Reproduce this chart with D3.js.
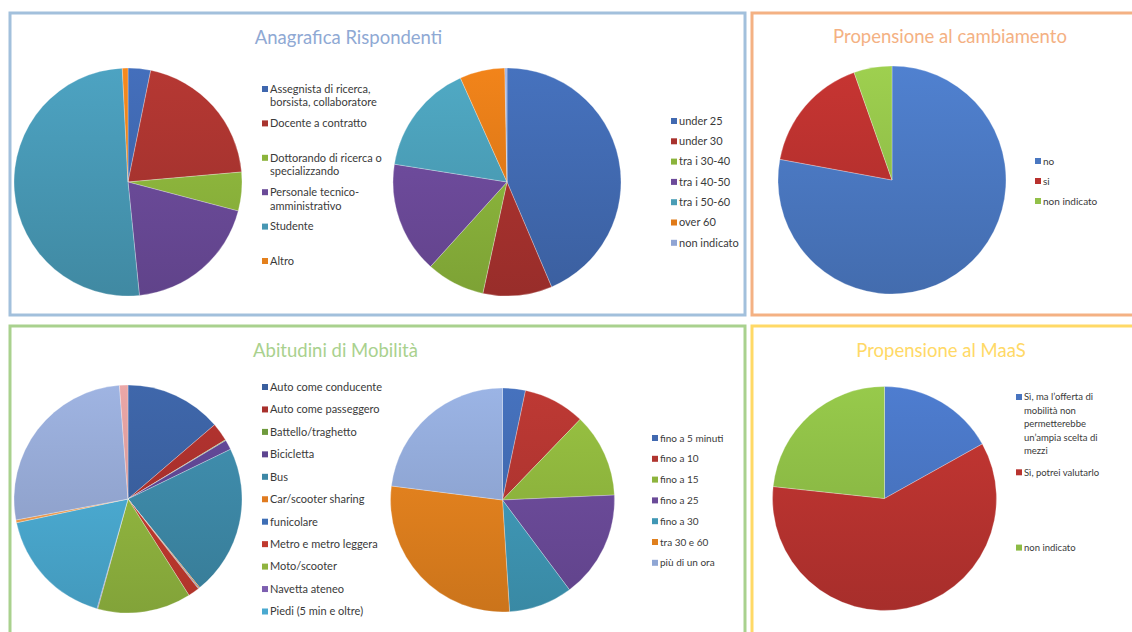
<!DOCTYPE html>
<html><head><meta charset="utf-8">
<script src="https://cdn.jsdelivr.net/npm/d3@7"></script>
<style>
html,body{margin:0;padding:0;background:#fff;}
svg{display:block;}
text{font-family:Lato,"Open Sans",sans-serif;}
</style></head>
<body>
<svg id="chart" width="1132" height="632"></svg>
<script>
// ---------- DATA ----------
const roleLabels = [["Assegnista di ricerca,","borsista, collaboratore"],["Docente a contratto"],["Dottorando di ricerca o","specializzando"],["Personale tecnico-","amministrativo"],["Studente"],["Altro"]];
const roleValues = [3.2, 20.4, 5.5, 19.3, 50.8, 0.8];
const roleColors = ["#3f67ae","#a8342f","#8cb43c","#6a4a98","#4797b3","#e4801c"];

const ageLabels = ["under 25","under 30","tra i 30-40","tra i 40-50","tra i 50-60","over 60","non indicato"];
const ageValues = [43.6, 9.8, 8.3, 15.8, 15.8, 6.4, 0.3];
const ageColors = ["#4169b0","#a8322e","#8ab33b","#6c4a9a","#4a9db6","#e07a18","#8fa4d4"];

const changeLabels = ["no","si","non indicato"];
const changeValues = [77.9, 16.7, 5.4];
const changeColors = ["#4a77c0","#b8312e","#92c049"];

// the legend of this pie is cut off by the picture edge after "Piedi (5 min e oltre)"
const modeLabels = ["Auto come conducente","Auto come passeggero","Battello/traghetto","Bicicletta","Bus","Car/scooter sharing","funicolare","Metro e metro leggera","Moto/scooter","Navetta ateneo","Piedi (5 min e oltre)"];
const modeValues = [13.75, 2.6, 0.1, 1.4, 21.4, 0.15, 0.1, 1.6, 13.3, 0.1, 17.3, 0.4, 26.8, 1.2];
const modeColors = ["#3a5f9e","#a8302c","#6e9a3c","#5e4591","#3d88a6","#e07b20","#3e6eb5","#c0392e","#90b43f","#7d5fb0","#4aa9d0","#f29a4a","#93a6d1","#d99a9a"];

const timeLabels = ["fino a 5 minuti","fino a 10","fino a 15","fino a 25","fino a 30","tra 30 e 60","più di un ora"];
const timeValues = [3.3, 8.9, 12.1, 15.5, 9.2, 28.0, 23.0];
const timeColors = ["#4169b0","#b03530","#8db43d","#6a4a98","#3f97b5","#e0801e","#8fa6d4"];

const maasLabels = [["Sì, ma l’offerta di","mobilità non","permetterebbe","un’ampia scelta di","mezzi"],["Sì, potrei valutarlo"],["non indicato"]];
const maasValues = [16.9, 59.8, 23.3];
const maasColors = ["#4874c0","#b8332f","#8cbb45"];

const titles = ["Anagrafica Rispondenti","Propensione al cambiamento","Abitudini di Mobilità","Propensione al MaaS"];

// ---------- DRAW ----------
const svg = d3.select("#chart");
const defs = svg.append("defs");

const panels = [
  {x:10, y:13, w:735, h:302, c:"#a2c0dc"},
  {x:752, y:13, w:400, h:302, c:"#f4b183"},
  {x:10, y:326, w:735, h:400, c:"#a9d18e"},
  {x:752, y:326, w:400, h:400, c:"#ffd966"}
];
svg.selectAll("rect.panel").data(panels).join("rect")
  .attr("class","panel")
  .attr("x",d=>d.x).attr("y",d=>d.y).attr("width",d=>d.w).attr("height",d=>d.h)
  .attr("fill","#fff").attr("stroke",d=>d.c).attr("stroke-width",3);

const titleSpec = [
  {x:348.5, y:38, c:"#8fa9d4"},
  {x:950, y:37, c:"#f4b183"},
  {x:335.5, y:351, c:"#a9d18e"},
  {x:941, y:351, c:"#ffd966"}
];
titleSpec.forEach((t,i)=>{
  svg.append("text").attr("x",t.x).attr("y",t.y).attr("dy","0.35em")
    .attr("text-anchor","middle").attr("font-size",18.5).attr("font-weight",400)
    .attr("fill",t.c).text(titles[i]);
});

let gid = 0;
function drawPie(cx, cy, r, values, colors){
  const pie = d3.pie().sort(null).value(d=>d)(values);
  const arc = d3.arc().innerRadius(0).outerRadius(r);
  const g = svg.append("g").attr("transform",`translate(${cx},${cy})`);
  g.selectAll("path").data(pie).join("path")
    .attr("d",arc)
    .attr("fill",(d,i)=>{
      const id = "grad"+(gid++);
      const lg = defs.append("linearGradient").attr("id",id)
        .attr("gradientUnits","userSpaceOnUse")
        .attr("x1",0).attr("y1",-r).attr("x2",0).attr("y2",r);
      const c = d3.color(colors[i]);
      lg.append("stop").attr("offset","0%").attr("stop-color",c.brighter(0.22).formatHex());
      lg.append("stop").attr("offset","100%").attr("stop-color",c.darker(0.28).formatHex());
      return `url(#${id})`;
    })
    .attr("stroke","rgba(255,255,255,0.45)").attr("stroke-width",0.6);
}

function drawLegend(x, y0, step, labels, colors, fs, lh){
  labels.forEach((lab,i)=>{
    const lines = Array.isArray(lab)?lab:[lab];
    const y = y0 + step*i;
    svg.append("rect").attr("x",x).attr("y",y-3).attr("width",6).attr("height",6).attr("fill",colors[i]);
    const t = svg.append("text").attr("font-size",fs).attr("fill","#3a3a3a");
    lines.forEach((ln,j)=>{
      t.append("tspan").attr("x",x+8).attr("y",y+j*lh).attr("dy","0.35em").text(ln);
    });
  });
}

drawPie(128, 182, 114, roleValues, roleColors);
drawLegend(262, 89, 34.4, roleLabels, roleColors, 11, 13.5);

drawPie(507, 182, 114, ageValues, ageColors);
drawLegend(671, 121, 20.3, ageLabels, ageColors, 11, 13);

drawPie(892, 180, 114, changeValues, changeColors);
drawLegend(1035, 161, 20, changeLabels, changeColors, 10, 13);

drawPie(128, 499, 114, modeValues, modeColors);
drawLegend(262, 387, 22.45, modeLabels, modeColors, 11, 13);

drawPie(502.5, 500, 112, timeValues, timeColors);
drawLegend(652, 438, 20.8, timeLabels, timeColors, 10, 13);

drawPie(884.5, 498.5, 112, maasValues, maasColors);
drawLegend(1016, 397, 75.3, maasLabels, maasColors, 9.5, 13.5);
</script>
</body></html>
